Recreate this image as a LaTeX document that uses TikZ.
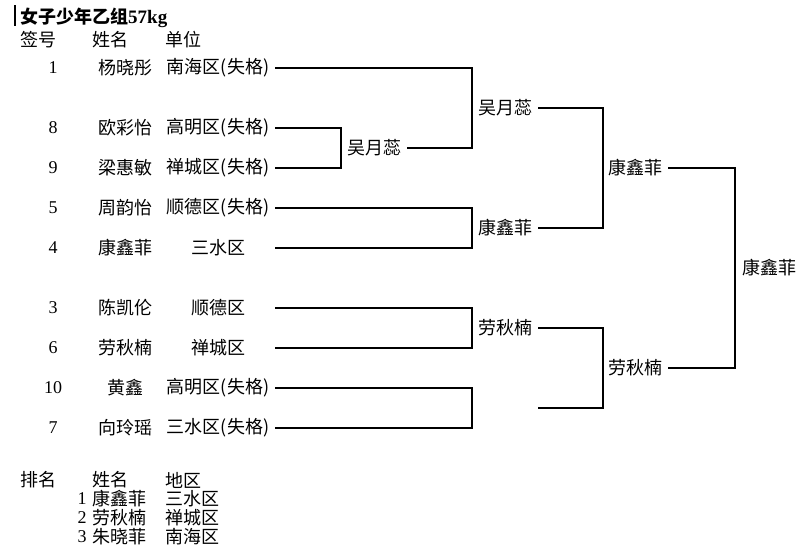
\documentclass[tikz,border=0pt]{standalone}
\usepackage{fontspec}
\setmainfont{Liberation Serif}
\newfontfamily\cjk{Noto Sans CJK SC}
\usepackage{tikz}

\tikzset{
  cell/.style={font=\cjk\fontsize{18}{20}\selectfont, inner sep=0pt},
  numcell/.style={font=\fontsize{18}{20}\selectfont, inner sep=0pt},
  win/.style={cell, anchor=east, inner xsep=5pt},
  bracket/.style={line width=1.5pt},
}

\begin{document}
\begin{tikzpicture}[x=1pt, y=-1pt]
            \useasboundingbox (0,0) rectangle (801,555);
            % title and header
            \draw[line width=1.2pt] (15,5) -- (15,26);
            \node[anchor=west, inner sep=0pt] (title) at (20,18) {{\cjk\bfseries\fontsize{18}{20}\selectfont 女子少年乙组}{\bfseries\fontsize{19}{20}\selectfont 57kg}};
            \node[cell] (hnum) at (38,40) {签号};
            \node[cell] (hname) at (110,40) {姓名};
            \node[cell] (hunit) at (183,40) {单位};

            % entries
            \node[numcell] (num1) at (53,68) {1};
            \node[cell] (name1) at (125,68) {杨晓彤};
            \node[cell] (unit1) at (218,68) {南海区(失格)};
            \coordinate (end1) at (275,68);
            \node[numcell] (num8) at (53,128) {8};
            \node[cell] (name8) at (125,128) {欧彩怡};
            \node[cell] (unit8) at (218,128) {高明区(失格)};
            \coordinate (end8) at (275,128);
            \node[numcell] (num9) at (53,168) {9};
            \node[cell] (name9) at (125,168) {梁惠敏};
            \node[cell] (unit9) at (218,168) {禅城区(失格)};
            \coordinate (end9) at (275,168);
            \node[numcell] (num5) at (53,208) {5};
            \node[cell] (name5) at (125,208) {周韵怡};
            \node[cell] (unit5) at (218,208) {顺德区(失格)};
            \coordinate (end5) at (275,208);
            \node[numcell] (num4) at (53,248) {4};
            \node[cell] (name4) at (125,248) {康鑫菲};
            \node[cell] (unit4) at (218,248) {三水区};
            \coordinate (end4) at (275,248);
            \node[numcell] (num3) at (53,308) {3};
            \node[cell] (name3) at (125,308) {陈凯伦};
            \node[cell] (unit3) at (218,308) {顺德区};
            \coordinate (end3) at (275,308);
            \node[numcell] (num6) at (53,348) {6};
            \node[cell] (name6) at (125,348) {劳秋楠};
            \node[cell] (unit6) at (218,348) {禅城区};
            \coordinate (end6) at (275,348);
            \node[numcell] (num10) at (53,388) {10};
            \node[cell] (name10) at (125,388) {黄鑫};
            \node[cell] (unit10) at (218,388) {高明区(失格)};
            \coordinate (end10) at (275,388);
            \node[numcell] (num7) at (53,428) {7};
            \node[cell] (name7) at (125,428) {向玲瑶};
            \node[cell] (unit7) at (218,428) {三水区(失格)};
            \coordinate (end7) at (275,428);

            % first round
            \coordinate (r89) at (341,148);
            \draw[bracket] (end8) -| (r89) |- (end9);
            \node[win] (w89) at (407,148) {吴月蕊};

            % second round
            \coordinate (q1) at (472,108);
            \coordinate (q2) at (472,228);
            \coordinate (q3) at (472,328);
            \coordinate (q4) at (472,408);
            \draw[bracket] (end1) -| (q1) |- (w89.east);
            \draw[bracket] (end5) -| (q2) |- (end4);
            \draw[bracket] (end3) -| (q3) |- (end6);
            \draw[bracket] (end10) -| (q4) |- (end7);
            \node[win] (wq1) at (538,108) {吴月蕊};
            \node[win] (wq2) at (538,228) {康鑫菲};
            \node[win] (wq3) at (538,328) {劳秋楠};
            \coordinate (wq4) at (538,408);

            % semi final
            \coordinate (s1) at (603,168);
            \coordinate (s2) at (603,368);
            \draw[bracket] (wq1.east) -| (s1) |- (wq2.east);
            \draw[bracket] (wq3.east) -| (s2) |- (wq4);
            \node[win] (ws1) at (668,168) {康鑫菲};
            \node[win] (ws2) at (668,368) {劳秋楠};

            % final
            \coordinate (f) at (735,268);
            \draw[bracket] (ws1.east) -| (f) |- (ws2.east);
            \node[cell, anchor=west] (champ) at (742,268) {康鑫菲};

            % ranking
            \node[cell] (rhead) at (38,480) {排名};
            \node[cell] (rname) at (110,480) {姓名};
            \node[cell] (rarea) at (183,480) {地区};
            \node[numcell] (rk1) at (82,499) {1};
            \node[cell, anchor=west] (rkname1) at (92,499) {康鑫菲};
            \node[cell, anchor=west] (rkarea1) at (165,499) {三水区};
            \node[numcell] (rk2) at (82,518) {2};
            \node[cell, anchor=west] (rkname2) at (92,518) {劳秋楠};
            \node[cell, anchor=west] (rkarea2) at (165,518) {禅城区};
            \node[numcell] (rk3) at (82,537) {3};
            \node[cell, anchor=west] (rkname3) at (92,537) {朱晓菲};
            \node[cell, anchor=west] (rkarea3) at (165,537) {南海区};
        \end{tikzpicture}
\end{document}
